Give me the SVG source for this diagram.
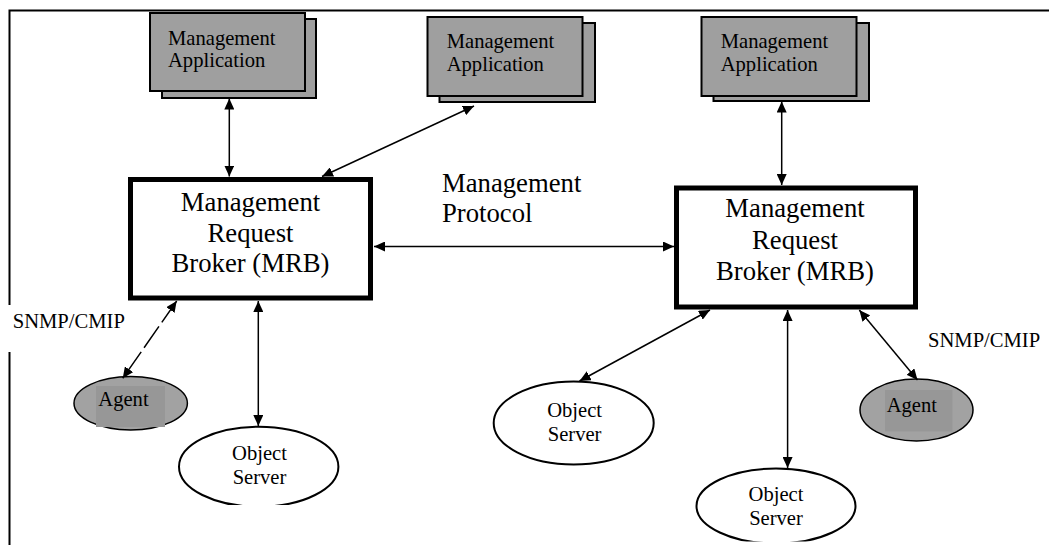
<svg xmlns="http://www.w3.org/2000/svg" width="1049" height="545" viewBox="0 0 1049 545">
<style>
.t{font-family:"Liberation Serif","Times New Roman",serif;fill:#000}
.s{font-size:20.6px}
.b{font-size:26.7px}
.app{fill:#9f9f9f;stroke:#000;stroke-width:2}
.mrb{fill:#fff;stroke:#000;stroke-width:5}
.os{fill:#fff;stroke:#000;stroke-width:2}
.ag{fill:#a2a2a2;stroke:#000;stroke-width:1.5}
.c{stroke:#000;stroke-width:1.5;fill:none;marker-start:url(#a);marker-end:url(#a)}
</style>
<defs>
<marker id="a" markerUnits="userSpaceOnUse" markerWidth="11" markerHeight="10" refX="11" refY="5" orient="auto-start-reverse"><path d="M0,0 L11,5 L0,10 z" fill="#000"/></marker>
</defs>
<rect width="1049" height="545" fill="#fff"/>
<g id="frame">
<path d="M9.5,545 V10.5 H1049" fill="none" stroke="#000" stroke-width="2"/>
<rect x="4" y="305" width="124" height="47" fill="#fff"/>
</g>
<g id="app1">
<rect class="app" x="162" y="19" width="154" height="79"/>
<rect class="app" x="150" y="13" width="155" height="78"/>
<text class="t s" x="168" y="44.5">Management</text>
<text class="t s" x="168" y="66.5">Application</text>
</g>
<g id="app2">
<rect class="app" x="439.5" y="23" width="155.5" height="79"/>
<rect class="app" x="427.5" y="17" width="155" height="79"/>
<text class="t s" x="446.7" y="48">Management</text>
<text class="t s" x="446.7" y="70.5">Application</text>
</g>
<g id="app3">
<rect class="app" x="713.5" y="23" width="155.5" height="78"/>
<rect class="app" x="701.5" y="17" width="155" height="79"/>
<text class="t s" x="720.7" y="48">Management</text>
<text class="t s" x="720.7" y="70.5">Application</text>
</g>
<g id="mrb1">
<rect class="mrb" x="130.5" y="179.5" width="240" height="118.5"/>
<text class="t b" text-anchor="middle" x="250.5" y="210.5">Management</text>
<text class="t b" text-anchor="middle" x="250.5" y="241.5">Request</text>
<text class="t b" text-anchor="middle" x="250.5" y="272">Broker (MRB)</text>
</g>
<g id="mrb2">
<rect class="mrb" x="676.5" y="188" width="239" height="119"/>
<text class="t b" text-anchor="middle" x="795" y="217">Management</text>
<text class="t b" text-anchor="middle" x="795" y="248.5">Request</text>
<text class="t b" text-anchor="middle" x="795" y="280">Broker (MRB)</text>
</g>
<g id="protocol-label">
<text class="t b" x="442" y="191.5">Management</text>
<text class="t b" x="442" y="222">Protocol</text>
</g>
<g id="snmp1"><text class="t s" x="12.7" y="328">SNMP/CMIP</text></g>
<g id="snmp2"><text class="t s" x="928" y="347">SNMP/CMIP</text></g>
<g id="agent1">
<ellipse class="ag" cx="130.7" cy="403.3" rx="56.7" ry="26.7"/>
<rect x="96" y="386" width="69" height="41" fill="#979797"/>
<text class="t s" x="98.3" y="406">Agent</text>
</g>
<g id="agent2">
<ellipse class="ag" cx="916.5" cy="410" rx="56.5" ry="31"/>
<rect x="885" y="390" width="67.5" height="41.5" fill="#979797"/>
<text class="t s" x="886.7" y="411.7">Agent</text>
</g>
<g id="os1">
<ellipse class="os" cx="258.7" cy="466.7" rx="79.7" ry="40"/>
<rect x="212" y="505" width="96" height="3" fill="#fff"/>
<text class="t s" text-anchor="middle" x="259.5" y="460">Object</text>
<text class="t s" text-anchor="middle" x="259.5" y="483.5">Server</text>
</g>
<g id="os2">
<ellipse class="os" cx="573.7" cy="423" rx="80" ry="41.5"/>
<text class="t s" text-anchor="middle" x="574.6" y="416.7">Object</text>
<text class="t s" text-anchor="middle" x="574.6" y="440.7">Server</text>
</g>
<g id="os3">
<ellipse class="os" cx="776" cy="506" rx="79.5" ry="37.5"/>
<rect x="729" y="541.5" width="96" height="3.5" fill="#fff"/>
<text class="t s" text-anchor="middle" x="776" y="500.7">Object</text>
<text class="t s" text-anchor="middle" x="776" y="525">Server</text>
</g>
<g id="connectors">
<line class="c" x1="229.3" y1="98.5" x2="229.3" y2="176.5"/>
<line class="c" x1="322" y1="176.5" x2="474" y2="106"/>
<line class="c" x1="781.7" y1="101.5" x2="781.7" y2="185"/>
<line class="c" x1="374" y1="246.5" x2="674" y2="246.5"/>
<line class="c" x1="176.7" y1="301" x2="122.7" y2="378.3" stroke-dasharray="26 5"/>
<line class="c" x1="258.3" y1="301" x2="258.3" y2="426"/>
<line class="c" x1="710" y1="310" x2="579.5" y2="381"/>
<line class="c" x1="787.6" y1="310" x2="787.6" y2="468"/>
<line class="c" x1="859.3" y1="310" x2="917.5" y2="380"/>
</g>
</svg>
